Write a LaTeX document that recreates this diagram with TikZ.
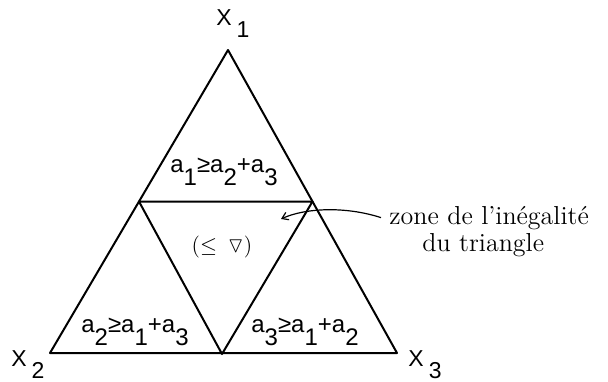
\documentclass[tikz,border=0pt]{standalone}
\usepackage{amssymb}
\usepackage{fontspec}
\setsansfont{Liberation Sans}
\usepackage{tikz}
\usetikzlibrary{arrows.meta,positioning}

\newcommand{\lowr}[1]{\raisebox{-0.55em}{#1}}

\begin{document}
\begin{tikzpicture}[
  x=0.5pt, y=-0.5pt,
  edge/.style={line width=1pt, line join=round},
  vlab/.style={font=\sffamily\fontsize{11.5}{14}\selectfont, inner sep=0pt, anchor=base west},
  zlab/.style={font=\sffamily\fontsize{12}{14}\selectfont, inner sep=0pt, anchor=base},
  note/.style={font=\fontsize{13}{15}\selectfont, inner sep=0pt, anchor=base west},
  arr/.style={-{Straight Barb[length=3pt,width=4pt]}, line width=0.6pt}
]
  \useasboundingbox (0,0) rectangle (608,381);

  % corners of the big triangle and the mid points
  \coordinate (x1) at (228,50);
  \coordinate (x2) at (50,353);
  \coordinate (x3) at (397,353);
  \coordinate (m12) at (139,201.5);
  \coordinate (m13) at (312.5,201.5);
  \coordinate (m23) at (222,354);

  \draw[edge] (x1) -- (x2) -- (x3) -- cycle;
  \draw[edge] (m12) -- (m13) -- (m23) -- cycle;

  % vertex labels
  \node[vlab] (l1) at (216,25) {X\kern2.5pt\lowr{1}};
  \node[vlab] (l2) at (11,366) {X\kern2.5pt\lowr{2}};
  \node[vlab] (l3) at (408,366) {X\kern2.5pt\lowr{3}};

  % zones
  \node[zlab] (z1) at (224,172) {a\lowr{1}≥a\lowr{2}+a\lowr{3}};
  \node[zlab] (z2) at (135,332) {a\lowr{2}≥a\lowr{1}+a\lowr{3}};
  \node[zlab] (z3) at (305,332) {a\lowr{3}≥a\lowr{1}+a\lowr{2}};
  \node[font=\fontsize{11}{13}\selectfont, inner sep=0pt, anchor=base] (mid) at (222,252) {($\leq$\,\ $\triangledown$)};

  % the inequality note
  \node[note] (zone) at (389,224) {zone de l'inégalité};
  \node[note] (tri) at (422,251) {du triangle};
  \coordinate (tip) at (281,219);
  \draw[arr] ([xshift=-4pt]zone.west) .. controls (345,206) and (305,208) .. (tip);
\end{tikzpicture}
\end{document}
